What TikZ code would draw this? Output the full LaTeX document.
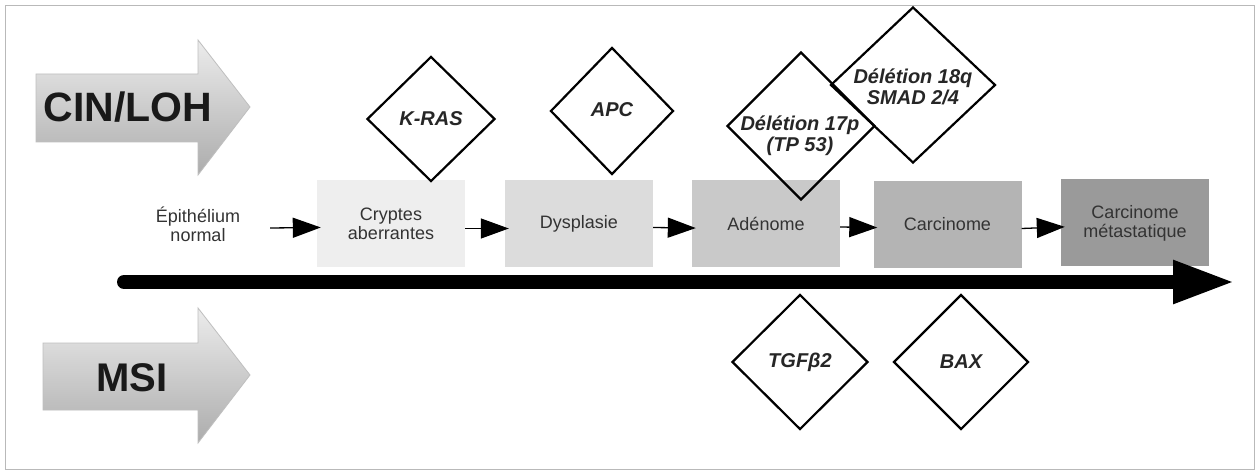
\documentclass[tikz,border=0pt]{standalone}
\usepackage{fontspec}
\setmainfont{Liberation Sans}
\usetikzlibrary{shapes.geometric,arrows.meta}
\definecolor{c1}{HTML}{EEEEEE}
\definecolor{c2}{HTML}{DCDCDC}
\definecolor{c3}{HTML}{C9C9C9}
\definecolor{c4}{HTML}{B4B4B4}
\definecolor{c5}{HTML}{9A9A9A}
\begin{document}
\begin{tikzpicture}[x=1pt,y=-1pt,
  stagebox/.style={rectangle, minimum width=148pt, minimum height=87pt, inner sep=0pt,
    text=black!80, font=\fontsize{18}{19}\selectfont, align=center},
  gene/.style={diamond, draw=black, line width=2.2pt, inner sep=0pt},
  genetext/.style={font=\fontsize{20}{21}\selectfont\bfseries\itshape, text=black!85, align=center},
  flow/.style={-{Triangle[length=28pt,width=20pt]}, line width=1.3pt, shorten >=-4pt},
  bigarrow/.style={draw=gray!50, line width=0.8pt, top color=gray!15, bottom color=gray!65},
  bigtext/.style={text=black!90, inner sep=0pt},
  timeline/.style={line width=14pt, line cap=round, -{Triangle[length=62pt,width=40pt]}}
]
\useasboundingbox (0,0) rectangle (1256,473);
\fill[white] (0,0) rectangle (1256,473);
\draw[gray!55, line width=1pt] (5,6) rectangle (1254,469);

% big side arrows
\path[bigarrow] (36,74) -- (198,74) -- (198,40) -- (250,107) -- (198,175) -- (198,142) -- (36,142) -- cycle;
\path[bigarrow] (43,343) -- (198,343) -- (198,308) -- (250,375) -- (198,443) -- (198,410) -- (43,410) -- cycle;
\node[bigtext, font=\fontsize{41}{41}\selectfont\bfseries] (cin) at (128,107) {CIN/LOH};
\node[bigtext, font=\fontsize{40}{40}\selectfont\bfseries] (msi) at (132,378) {MSI};

% stages
\node[stagebox, minimum width=144pt] (ep) at (198,224) {Épithélium\\normal};
\node[stagebox, fill=c1] (cry) at (391,223.5) {Cryptes\\aberrantes};
\node[stagebox, fill=c2] (dys) at (579,223.5) {Dysplasie};
\node[stagebox, fill=c3] (ade) at (766,224) {Adénome};
\node[stagebox, fill=c4] (car) at (947.5,224.5) {Carcinome};
\node[stagebox, fill=c5] (met) at (1135,223) {Carcinome\\métastatique};

\draw[flow] ([yshift=-4pt]ep.east) -- ([yshift=-4pt]cry.west);
\draw[flow] ([yshift=-5pt]cry.east) -- ([yshift=-5pt]dys.west);
\draw[flow] ([yshift=-4pt]dys.east) -- ([yshift=-4pt]ade.west);
\draw[flow] ([yshift=-3pt]ade.east) -- ([yshift=-3pt]car.west);
\draw[flow] ([yshift=-4pt]car.east) -- ([yshift=-4pt]met.west);

% timeline
\coordinate (t0) at (124,282);
\coordinate (t1) at (1235,282);
\draw[timeline] (t0) -- (t1);

% genes
\node[gene, minimum width=128pt, minimum height=125pt] (kras) at (431,119) {};
\node[genetext] (krast) at (431,119) {K-RAS};
\node[gene, minimum width=123pt, minimum height=127pt] (apc) at (612,111) {};
\node[genetext] (apct) at (612,110) {APC};
\node[gene, minimum width=148pt, minimum height=148pt] (d17) at (801,126) {};
\node[genetext] (d17t) at (800,136) {Délétion 17p\\(TP 53)};
\node[gene, minimum width=165pt, minimum height=156pt] (d18) at (913,85) {};
\node[genetext] (d18t) at (913,87) {Délétion 18q\\SMAD 2/4};
\node[gene, minimum width=136pt, minimum height=135pt] (tgf) at (800,362) {};
\node[genetext] (tgft) at (800,362) {TGFβ2};
\node[gene, minimum width=135pt, minimum height=135pt] (bax) at (961,362) {};
\node[genetext] (baxt) at (961,362) {BAX};
\end{tikzpicture}
\end{document}
